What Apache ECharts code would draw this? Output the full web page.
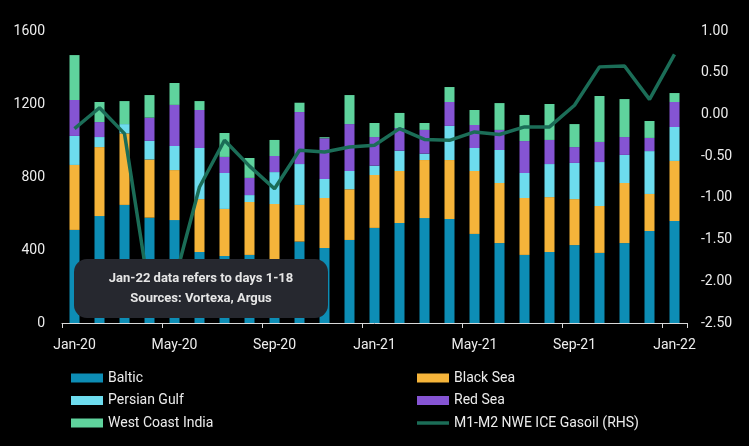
<!DOCTYPE html>
<html>
<head>
<meta charset="utf-8">
<style>
html,body{margin:0;padding:0;background:#000;}
#chart{width:749px;height:446px;}
</style>
<script src="https://cdn.jsdelivr.net/npm/echarts@6/dist/echarts.min.js"></script>
</head>
<body>
<div id="chart"></div>
<script>
const months = ['Jan-20','Feb-20','Mar-20','Apr-20','May-20','Jun-20','Jul-20','Aug-20','Sep-20','Oct-20','Nov-20','Dec-20',
  'Jan-21','Feb-21','Mar-21','Apr-21','May-21','Jun-21','Jul-21','Aug-21','Sep-21','Oct-21','Nov-21','Dec-21','Jan-22'];
const baltic      = [510,586,647,577,564,389,367,373,345,446,411,455,521,548,575,570,488,438,373,389,427,384,438,504,559];
const blackSea    = [356,378,392,319,274,290,258,290,307,201,274,278,290,285,318,323,345,329,312,301,252,257,329,203,329];
const persianGulf = [159,55,51,102,132,280,197,38,175,224,104,100,51,111,35,187,126,181,137,181,198,241,154,235,186];
const redSea      = [197,82,0,127,225,208,88,94,88,285,223,257,157,124,130,131,126,110,175,132,87,110,98,72,137];
const westCoastIndia = [246,110,126,124,120,49,131,109,88,51,6,159,77,83,38,82,82,147,143,197,126,252,208,93,49];
const gasoil = [-0.17,0.08,-0.23,-2.15,-2.0,-0.87,-0.31,-0.62,-0.89,-0.43,-0.45,-0.39,-0.37,-0.17,-0.30,-0.31,-0.21,-0.24,-0.15,-0.15,0.11,0.57,0.58,0.18,0.72];
const leftTicks = {min:0, max:1600, interval:400};
const rightTicks = {min:-2.5, max:1.0, interval:0.5};
const noteLines = ['Jan-22 data refers to days 1-18','Sources: Vortexa, Argus'];

const FONT = 'Roboto';
const TXT = '#ececec';
const colors = {
  'Baltic':'#0d8db5',
  'Black Sea':'#f5b43a',
  'Persian Gulf':'#6ddcee',
  'Red Sea':'#8554d3',
  'West Coast India':'#5fd39d',
  'M1-M2 NWE ICE Gasoil (RHS)':'#1b6d57'
};
function bar(name, data){
  return {name, type:'bar', stack:'total', data, barWidth:10, itemStyle:{color:colors[name]}, z:2};
}
const legendText = {color:TXT, fontSize:14, fontFamily:FONT, lineHeight:16};
const chart = echarts.init(document.getElementById('chart'), null, {renderer:'canvas'});
chart.setOption({
  backgroundColor:'#000',
  animation:false,
  textStyle:{fontFamily:FONT},
  grid:{left:62, right:62, top:31, bottom:123, containLabel:false},
  legend:[
    {left:66, top:365, orient:'vertical', itemWidth:32, itemHeight:9, itemGap:6.5, textStyle:legendText,
     data:[{name:'Baltic',icon:'rect'},{name:'Persian Gulf',icon:'rect'},{name:'West Coast India',icon:'rect'}]},
    {left:412, top:365, orient:'vertical', itemWidth:32, itemHeight:9, itemGap:6.5, textStyle:legendText,
     data:[{name:'Black Sea',icon:'rect'},{name:'Red Sea',icon:'rect'},
           {name:'M1-M2 NWE ICE Gasoil (RHS)', icon:'path://M0,0L32,0L32,3.5L0,3.5Z'}]}
  ],
  xAxis:{type:'category', data:months, boundaryGap:true,
    axisLine:{show:true, lineStyle:{color:'#d8d8d8', width:1}},
    axisTick:{show:true, interval:3, length:5, lineStyle:{color:'#d8d8d8'}},
    axisLabel:{interval:3, color:TXT, fontSize:14, fontFamily:FONT, margin:15}
  },
  yAxis:[
    {type:'value', min:leftTicks.min, max:leftTicks.max, interval:leftTicks.interval,
     axisLine:{show:false}, axisTick:{show:false}, splitLine:{show:false},
     axisLabel:{color:TXT, fontSize:14, fontFamily:FONT, margin:17, formatter:v=>String(v)}},
    {type:'value', min:rightTicks.min, max:rightTicks.max, interval:rightTicks.interval, position:'right',
     axisLine:{show:false}, axisTick:{show:false}, splitLine:{show:false},
     axisLabel:{color:TXT, fontSize:14, fontFamily:FONT, margin:14, formatter:v=>v.toFixed(2)}}
  ],
  series:[
    bar('Baltic', baltic),
    bar('Black Sea', blackSea),
    bar('Persian Gulf', persianGulf),
    bar('Red Sea', redSea),
    bar('West Coast India', westCoastIndia),
    {name:'M1-M2 NWE ICE Gasoil (RHS)', type:'line', yAxisIndex:1, data:gasoil, symbol:'none',
     lineStyle:{color:colors['M1-M2 NWE ICE Gasoil (RHS)'], width:3.5}, itemStyle:{color:colors['M1-M2 NWE ICE Gasoil (RHS)']}, z:5}
  ],
  graphic:[
    {type:'group', left:74, top:259, z:100, children:[
      {type:'rect', shape:{x:0,y:0,width:254,height:59,r:13}, style:{fill:'#26282f'}, z:100},
      {type:'text', x:127, y:20, z:101, style:{text:noteLines[0], fill:'#e6e6e6', font:'bold 13px Roboto', align:'center', verticalAlign:'middle'}},
      {type:'text', x:127, y:40, z:101, style:{text:noteLines[1], fill:'#e6e6e6', font:'bold 13px Roboto', align:'center', verticalAlign:'middle'}}
    ]}
  ]
});
</script>
</body>
</html>
